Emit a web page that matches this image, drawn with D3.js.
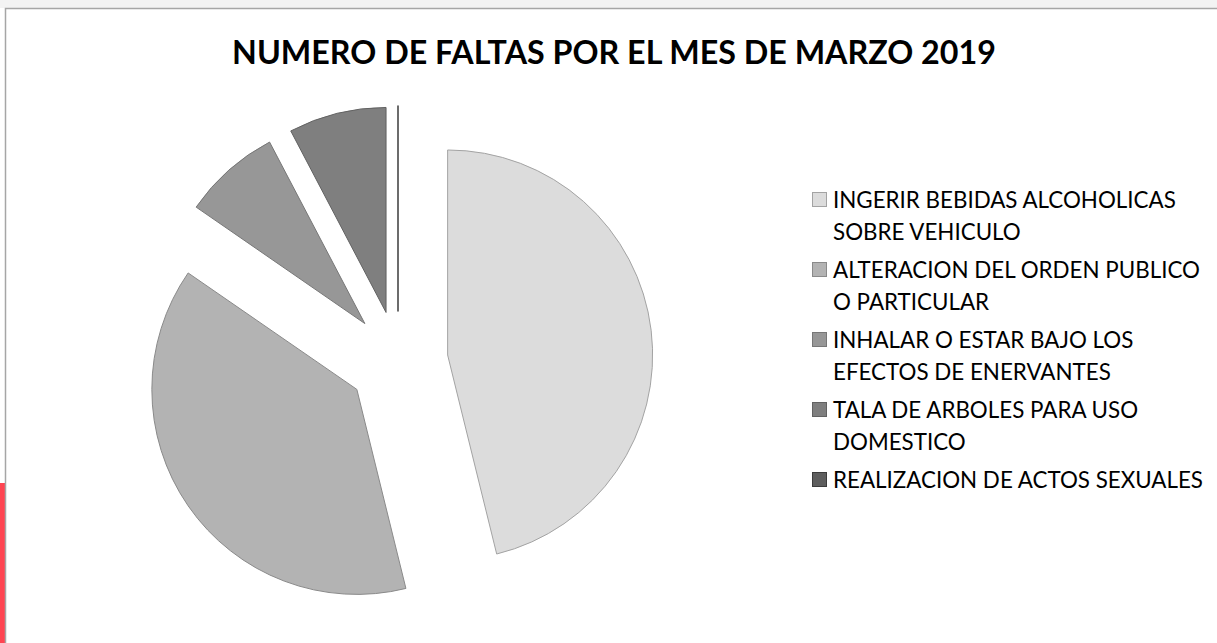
<!DOCTYPE html>
<html>
<head>
<meta charset="utf-8">
<script src="https://cdn.jsdelivr.net/npm/d3@7"></script>
<style>
  html, body { margin: 0; padding: 0; background: #fff; }
  svg { display: block; }
</style>
</head>
<body>
<div id="chart"></div>
<script>
// data
const title = 'NUMERO DE FALTAS POR EL MES DE MARZO 2019';
const categories = [
  'INGERIR BEBIDAS ALCOHOLICAS SOBRE VEHICULO',
  'ALTERACION DEL ORDEN PUBLICO O PARTICULAR',
  'INHALAR O ESTAR BAJO LOS EFECTOS DE ENERVANTES',
  'TALA DE ARBOLES PARA USO DOMESTICO',
  'REALIZACION DE ACTOS SEXUALES',
];
const legendLines = [
  ['INGERIR BEBIDAS ALCOHOLICAS', 'SOBRE VEHICULO'],
  ['ALTERACION DEL ORDEN PUBLICO', 'O PARTICULAR'],
  ['INHALAR O ESTAR BAJO LOS', 'EFECTOS DE ENERVANTES'],
  ['TALA DE ARBOLES PARA USO', 'DOMESTICO'],
  ['REALIZACION DE ACTOS SEXUALES'],
];
const values = [6, 5, 1, 1, 0];
const fills = ['#dcdcdc', '#b3b3b3', '#979797', '#7f7f7f', '#5e5e5e'];
const strokes = ['#a3a3a3', '#8a8a8a', '#777777', '#626262', '#3c3c3c'];

const width = 1217;
const height = 643;
const font = 'Lato, "Open Sans", sans-serif';

const svg = d3.select('#chart')
  .append('svg')
  .attr('width', width)
  .attr('height', height);

// surroundings of the captured chart
svg.append('rect')
  .attr('x', 0).attr('y', 0)
  .attr('width', width).attr('height', 8)
  .attr('fill', '#f3f3f3');
svg.append('rect')
  .attr('x', 0).attr('y', 483)
  .attr('width', 5).attr('height', height - 483)
  .attr('fill', '#ff4451');

// chart frame
svg.append('rect')
  .attr('x', 5.5).attr('y', 8.5)
  .attr('width', width + 10).attr('height', height)
  .attr('fill', '#fff')
  .attr('stroke', '#a6a6a6')
  .attr('stroke-width', 1.5);

// title, sized to the reference width
const titleText = svg.append('text')
  .attr('x', 614)
  .attr('y', 64)
  .attr('text-anchor', 'middle')
  .attr('font-family', font)
  .attr('font-weight', 'bold')
  .attr('font-size', 30)
  .attr('fill', '#000')
  .text(title);
const tw = titleText.node().getComputedTextLength();
titleText.attr('font-size', 30 * 764 / tw);

// pie
const cx = 398;
const cy = 361;
const radius = 205;
const explode = 50;

const pie = d3.pie().sort(null).value((d) => d);
const arc = d3.arc().innerRadius(0).outerRadius(radius);
const arcs = pie(values);

const g = svg.append('g')
  .attr('transform', `translate(${cx},${cy})`);

g.selectAll('path')
  .data(arcs)
  .join('path')
  .attr('transform', (d) => {
    const mid = (d.startAngle + d.endAngle) / 2;
    return `translate(${explode * Math.sin(mid)},${-explode * Math.cos(mid)})`;
  })
  .attr('d', arc)
  .attr('fill', (d, i) => fills[i])
  .attr('stroke', (d, i) => strokes[i])
  .attr('stroke-width', (d, i) => (values[i] === 0 ? 1.5 : 1))
  .attr('stroke-linejoin', 'round');

// legend
const legendX = 812;
const legendY = 200;
const entryStep = 70;
const lineStep = 32;

const legend = svg.append('g');
const items = legend.selectAll('g')
  .data(categories)
  .join('g')
  .attr('transform', (d, i) => `translate(${legendX},${legendY + i * entryStep})`);

items.append('rect')
  .attr('x', 0.5).attr('y', -7.5)
  .attr('width', 14).attr('height', 14)
  .attr('fill', (d, i) => fills[i])
  .attr('stroke', (d, i) => strokes[i])
  .attr('stroke-width', 1);

const labels = items.append('text')
  .attr('x', 21)
  .attr('font-family', font)
  .attr('font-size', 20)
  .attr('fill', '#000');

labels.selectAll('tspan')
  .data((d, i) => legendLines[i])
  .join('tspan')
  .attr('x', 21)
  .attr('y', (d, j) => j * lineStep)
  .attr('dy', '0.35em')
  .text((d) => d);

// size legend text so the longest line matches the reference
const longest = d3.max(labels.selectAll('tspan').nodes(), (n) => n.getComputedTextLength());
labels.attr('font-size', 20 * 370 / longest);
</script>
</body>
</html>
